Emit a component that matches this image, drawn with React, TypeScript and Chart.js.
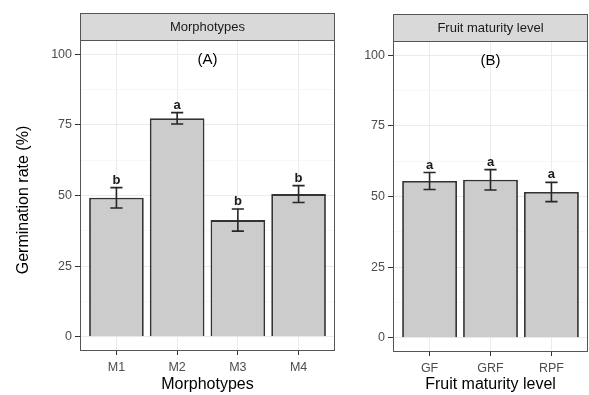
import React, { useEffect, useRef } from "react";
import { Chart, registerables } from "chart.js";

Chart.register(...registerables);

// ---- data ----
const morphCategories = ["M1", "M2", "M3", "M4"];
const morphMeans = [49.2, 77.3, 41.3, 50.5];
const morphErrors = [3.6, 2.0, 3.9, 3.0];
const morphLetters = ["b", "a", "b", "b"];

const maturityCategories = ["GF", "GRF", "RPF"];
const maturityMeans = [55.5, 55.9, 51.6];
const maturityErrors = [3.0, 3.6, 3.4];
const maturityLetters = ["a", "a", "a"];

const yMajorTicks = [0, 25, 50, 75, 100];
const yMinorTicks = [12.5, 37.5, 62.5, 87.5];

const FONT = "'Liberation Sans', Arial, Helvetica, sans-serif";

type Panel = {
  categories: string[];
  means: number[];
  errors: number[];
  letters: string[];
  strip: string;
  tag: string;
  xTitle: string;
  yTitle?: string;
  left: number;
  width: number;
  padRight: number;
  padTop: number;
  yAxisWidth: number;
  xAxisHeight: number;
  stripTop: number;
};

const panels: Panel[] = [
  {
    categories: morphCategories,
    means: morphMeans,
    errors: morphErrors,
    letters: morphLetters,
    strip: "Morphotypes",
    tag: "(A)",
    xTitle: "Morphotypes",
    yTitle: "Germination rate (%)",
    left: 0,
    width: 345,
    padRight: 10,
    padTop: 40,
    yAxisWidth: 80,
    xAxisHeight: 44,
    stripTop: 13,
  },
  {
    categories: maturityCategories,
    means: maturityMeans,
    errors: maturityErrors,
    letters: maturityLetters,
    strip: "Fruit maturity level",
    tag: "(B)",
    xTitle: "Fruit maturity level",
    left: 340,
    width: 249,
    padRight: 1,
    padTop: 41,
    yAxisWidth: 53,
    xAxisHeight: 43,
    stripTop: 14,
  },
];

function makeFacetPlugin(p: Panel) {
  return {
    id: "facet",
    afterDatasetsDraw(chart: any) {
      const { ctx, scales } = chart;
      const x = scales.x;
      const y = scales.y;
      ctx.save();
      ctx.strokeStyle = "#262626";
      ctx.lineWidth = 1.6;
      p.means.forEach((m, i) => {
        const px = x.getPixelForValue(i);
        const hw = x.getPixelForValue(i + 0.1) - px;
        const hi = y.getPixelForValue(m + p.errors[i]);
        const lo = y.getPixelForValue(m - p.errors[i]);
        ctx.beginPath();
        ctx.moveTo(px, hi);
        ctx.lineTo(px, lo);
        ctx.moveTo(px - hw, hi);
        ctx.lineTo(px + hw, hi);
        ctx.moveTo(px - hw, lo);
        ctx.lineTo(px + hw, lo);
        ctx.stroke();
        ctx.fillStyle = "#1a1a1a";
        ctx.font = `bold 13px ${FONT}`;
        ctx.textAlign = "center";
        ctx.textBaseline = "bottom";
        ctx.fillText(p.letters[i], px, hi - 1);
      });
      ctx.restore();
    },
    afterDraw(chart: any) {
      const { ctx, chartArea: a, scales } = chart;
      const x = scales.x;
      const y = scales.y;
      ctx.save();
      // panel border
      ctx.strokeStyle = "#555555";
      ctx.lineWidth = 1;
      ctx.strokeRect(a.left + 0.5, a.top + 0.5, a.right - a.left - 1, a.bottom - a.top - 1);
      // strip
      ctx.fillStyle = "#d9d9d9";
      ctx.fillRect(a.left, p.stripTop, a.right - a.left, a.top - p.stripTop);
      ctx.strokeStyle = "#555555";
      ctx.strokeRect(a.left + 0.5, p.stripTop + 0.5, a.right - a.left - 1, a.top - p.stripTop);
      ctx.fillStyle = "#1a1a1a";
      ctx.font = `13px ${FONT}`;
      ctx.textAlign = "center";
      ctx.textBaseline = "middle";
      ctx.fillText(p.strip, (a.left + a.right) / 2, (p.stripTop + a.top) / 2 + 1);
      // tag
      ctx.fillStyle = "#000000";
      ctx.font = `15px ${FONT}`;
      ctx.fillText(p.tag, x.getPixelForValue((p.categories.length - 1) / 2), y.getPixelForValue(98));
      // y title
      if (p.yTitle) {
        ctx.save();
        ctx.translate(24, 200);
        ctx.rotate(-Math.PI / 2);
        ctx.font = `16px ${FONT}`;
        ctx.fillStyle = "#000000";
        ctx.fillText(p.yTitle, 0, 0);
        ctx.restore();
      }
      // x title
      ctx.font = `16px ${FONT}`;
      ctx.fillStyle = "#000000";
      ctx.fillText(p.xTitle, (a.left + a.right) / 2, 385);
      ctx.restore();
    },
  };
}

function PanelChart({ p }: { p: Panel }) {
  const ref = useRef<HTMLCanvasElement | null>(null);
  useEffect(() => {
    if (!ref.current) return;
    const isMajor = (v: number) => v % 25 === 0;
    const chart = new Chart(ref.current, {
      type: "bar",
      data: {
        datasets: [
          {
            data: p.means.map((m, i) => ({ x: i, y: m })),
            backgroundColor: "#cccccc",
            borderColor: "#333333",
            borderWidth: 1.8,
            barPercentage: 0.9,
            categoryPercentage: 1,
          },
        ],
      },
      options: {
        responsive: false,
        animation: false,
        events: [],
        layout: { padding: { left: 0, right: p.padRight, top: p.padTop, bottom: 0 } },
        plugins: { legend: { display: false }, tooltip: { enabled: false } },
        scales: {
          x: {
            type: "linear",
            offset: false,
            min: -0.6,
            max: p.categories.length - 1 + 0.6,
            afterBuildTicks: (s: any) => {
              s.ticks = p.categories.map((_, i) => ({ value: i }));
            },
            afterFit: (s: any) => {
              s.height = p.xAxisHeight;
            },
            ticks: {
              autoSkip: false,
              maxRotation: 0,
              padding: 5,
              color: "#4d4d4d",
              font: { family: FONT, size: 12.5 },
              callback: (v: any) => p.categories[Math.round(Number(v))] ?? "",
            },
            grid: {
              offset: false,
              color: "#ebebeb",
              lineWidth: 1,
              tickColor: "#333333",
              tickLength: 4,
              tickWidth: 1,
            },
            border: { display: false },
          },
          y: {
            type: "linear",
            min: -5,
            max: 105,
            afterBuildTicks: (s: any) => {
              s.ticks = [...yMajorTicks, ...yMinorTicks]
                .sort((a, b) => a - b)
                .map((v) => ({ value: v }));
            },
            afterFit: (s: any) => {
              s.width = p.yAxisWidth;
            },
            ticks: {
              padding: 3,
              color: "#4d4d4d",
              font: { family: FONT, size: 12.5 },
              callback: (v: any) => (isMajor(Number(v)) ? String(v) : ""),
            },
            grid: {
              color: (c: any) => (isMajor(c.tick.value) ? "#ebebeb" : "#f3f3f3"),
              lineWidth: (c: any) => (isMajor(c.tick.value) ? 1 : 0.7),
              tickColor: (c: any) => (isMajor(c.tick.value) ? "#333333" : "rgba(0,0,0,0)"),
              tickLength: 5,
              tickWidth: 1,
            },
            border: { display: false },
          },
        },
      },
      plugins: [makeFacetPlugin(p)],
    } as any);
    return () => chart.destroy();
  }, [p]);
  return (
    <canvas
      ref={ref}
      width={p.width}
      height={395}
      style={{ position: "absolute", left: p.left, top: 0, width: p.width, height: 395 }}
    />
  );
}

export default function App() {
  useEffect(() => {
    document.body.style.margin = "0";
  }, []);
  return (
    <div style={{ position: "relative", width: 589, height: 395, background: "#ffffff", overflow: "hidden" }}>
      {panels.map((p, i) => (
        <PanelChart key={i} p={p} />
      ))}
    </div>
  );
}
